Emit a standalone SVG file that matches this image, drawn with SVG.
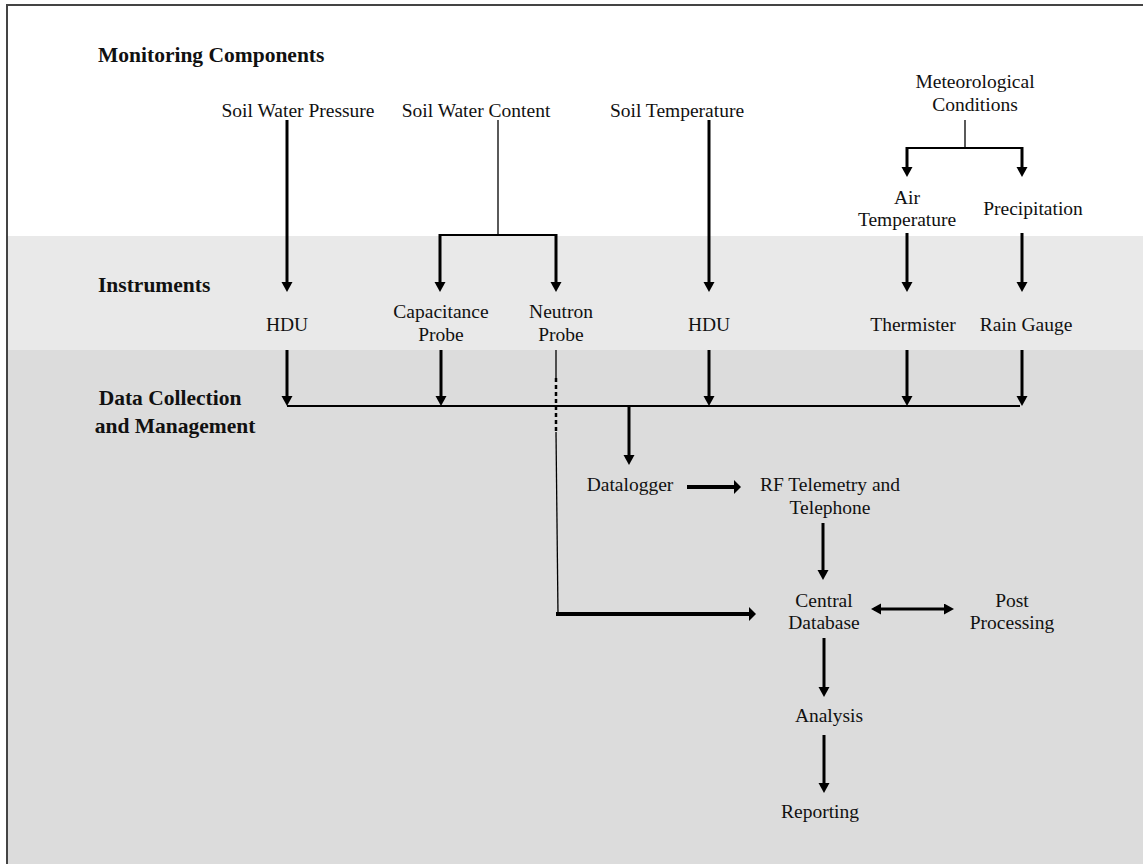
<svg xmlns="http://www.w3.org/2000/svg" width="1143" height="864" viewBox="0 0 1143 864">
<style>
text{font-family:"Liberation Serif","Times New Roman",serif;font-size:19.5px;fill:#111;text-anchor:middle}
text.h{font-weight:bold;font-size:21.5px}
text.s{text-anchor:start}
.a{stroke:#000;stroke-width:3;fill:none;marker-end:url(#ah)}
.t{stroke:#000;stroke-width:4;fill:none;marker-end:url(#ah2)}
.b{stroke:#000;stroke-width:2;fill:none}
.n{stroke:#000;stroke-width:1.3;fill:none}
</style>
<defs>
<marker id="ah" markerUnits="userSpaceOnUse" markerWidth="12" markerHeight="12" refX="3" refY="5.5" orient="auto">
<path d="M0,0 L10,5.5 L0,11 z" fill="#000"/>
</marker>
<marker id="ah2" markerUnits="userSpaceOnUse" markerWidth="14" markerHeight="16" refX="3" refY="7" orient="auto">
<path d="M0,0 L7,7 L0,14 z" fill="#000"/>
</marker>
<marker id="ahs" markerUnits="userSpaceOnUse" markerWidth="12" markerHeight="12" refX="7" refY="5.5" orient="auto-start-reverse">
<path d="M0,0 L10,5.5 L0,11 z" fill="#000"/>
</marker>
</defs>
<g id="background">
<rect x="7" y="5" width="1150" height="870" fill="#fff" stroke="#444" stroke-width="2"/>
<rect x="8" y="236" width="1135" height="114" fill="#e9e9e9"/>
<rect x="8" y="350" width="1135" height="514" fill="#dcdcdc"/>
</g>
<g id="section-labels">
<text class="h s" x="98" y="62">Monitoring Components</text>
<text class="h s" x="98" y="292">Instruments</text>
<text class="h" x="170" y="405">Data Collection</text>
<text class="h" x="175" y="433">and Management</text>
</g>
<g id="n-swp"><text x="298" y="117">Soil Water Pressure</text></g>
<g id="n-swc"><text x="476" y="117">Soil Water Content</text></g>
<g id="n-st"><text x="677" y="117">Soil Temperature</text></g>
<g id="n-met"><text x="975" y="88">Meteorological</text><text x="975" y="111">Conditions</text></g>
<g id="n-air"><text x="907" y="204">Air</text><text x="907" y="226">Temperature</text></g>
<g id="n-prec"><text x="1033" y="215">Precipitation</text></g>
<g id="n-hdu1"><text x="287" y="331">HDU</text></g>
<g id="n-cap"><text x="441" y="318">Capacitance</text><text x="441" y="341">Probe</text></g>
<g id="n-neu"><text x="561" y="318">Neutron</text><text x="561" y="341">Probe</text></g>
<g id="n-hdu2"><text x="709" y="331">HDU</text></g>
<g id="n-therm"><text x="913" y="331">Thermister</text></g>
<g id="n-rain"><text x="1026" y="331">Rain Gauge</text></g>
<g id="n-dl"><text x="630" y="491">Datalogger</text></g>
<g id="n-rf"><text x="830" y="491">RF Telemetry and</text><text x="830" y="514">Telephone</text></g>
<g id="n-cdb"><text x="824" y="607">Central</text><text x="824" y="629">Database</text></g>
<g id="n-pp"><text x="1012" y="607">Post</text><text x="1012" y="629">Processing</text></g>
<g id="n-an"><text x="829" y="722">Analysis</text></g>
<g id="n-rep"><text x="820" y="818">Reporting</text></g>
<g id="connectors">
<path class="a" d="M287,120 V285"/>
<path class="n" d="M498,120 V235"/>
<path class="b" d="M440,235 H556"/>
<path class="a" d="M440,234 V285"/>
<path class="a" d="M556,234 V285"/>
<path class="a" d="M709,120 V285"/>
<path class="n" d="M965,120 V148"/>
<path class="b" d="M907,148 H1022"/>
<path class="a" d="M907,147 V170"/>
<path class="a" d="M1022,147 V170"/>
<path class="a" d="M907,233 V285"/>
<path class="a" d="M1022,233 V285"/>
<path class="a" d="M287,350 V399"/>
<path class="a" d="M441,350 V399"/>
<path class="a" d="M709,350 V399"/>
<path class="a" d="M907,350 V399"/>
<path class="a" d="M1022,350 V399"/>
<path class="b" d="M287,406 H1020"/>
<path class="a" d="M629,406 V458"/>
<path class="n" d="M556,350 V378"/>
<path d="M556,378 V432" stroke="#000" stroke-width="2.5" stroke-dasharray="4,3" fill="none"/>
<path class="n" d="M556,432 L558,614"/>
<path class="t" d="M556,614 H752"/>
<path class="t" d="M687,487 H737"/>
<path class="a" d="M823,523 V573"/>
<path d="M874,609 H947" stroke="#000" stroke-width="3" fill="none" marker-start="url(#ahs)" marker-end="url(#ah)"/>
<path class="a" d="M824,638 V690"/>
<path class="a" d="M824,735 V786"/>
</g>
</svg>
